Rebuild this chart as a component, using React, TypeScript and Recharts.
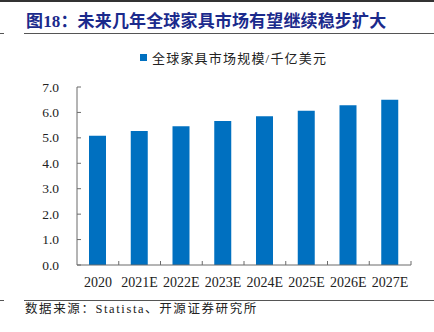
import { BarChart, Bar, XAxis, YAxis } from 'recharts';

const years = ['2020', '2021E', '2022E', '2023E', '2024E', '2025E', '2026E', '2027E'];
const marketSize = [5.08, 5.27, 5.46, 5.66, 5.85, 6.07, 6.28, 6.5];
const yTicks = [0, 1, 2, 3, 4, 5, 6, 7];

const seriesName = '全球家具市场规模/千亿美元';
const title = '图18：未来几年全球家具市场有望继续稳步扩大';
const source = '数据来源：Statista、开源证券研究所';

const data = years.map((year, i) => ({ year, value: marketSize[i] }));

const BLUE = '#0070C0';
const AXIS = '#6b6b6b';
const LATIN = '"Liberation Serif", "Times New Roman", serif';
const CJK = '"Liberation Serif", "Noto Sans CJK SC", serif';

const Y_MARGIN = 18;
const X_MARGIN = 10;
const TICK_LEN = 4;

function YTick(props: any) {
  const { x, y, payload } = props;
  const axisX = x + Y_MARGIN;
  return (
    <g>
      <line x1={axisX} x2={axisX + TICK_LEN} y1={y} y2={y} stroke={AXIS} />
      <text x={x} y={y} dy={4.5} textAnchor="end" fill="#222" fontSize={13.5} fontFamily={LATIN}>
        {Number(payload.value).toFixed(1)}
      </text>
    </g>
  );
}

function XTick(props: any) {
  const { x, y, payload, index, width, visibleTicksCount } = props;
  const band = width / visibleTicksCount;
  const axisY = y - X_MARGIN;
  const left = x - band / 2;
  const right = x + band / 2;
  return (
    <g>
      {index > 0 && <line x1={left} x2={left} y1={axisY} y2={axisY - TICK_LEN} stroke={AXIS} />}
      {index === visibleTicksCount - 1 && (
        <line x1={right} x2={right} y1={axisY} y2={axisY - TICK_LEN} stroke={AXIS} />
      )}
      <text x={x} y={y} dy={12} textAnchor="middle" fill="#222" fontSize={14} fontFamily={LATIN}>
        {payload.value}
      </text>
    </g>
  );
}

export default function App() {
  return (
    <div
      style={{
        position: 'absolute',
        left: 0,
        top: 0,
        width: 434,
        height: 332,
        background: '#fff',
        overflow: 'hidden',
      }}
    >
      <div style={{ position: 'absolute', left: 0, top: 0, width: 434, height: 2, background: '#333' }} />
      <div
        style={{
          position: 'absolute',
          left: 26,
          top: 10,
          fontSize: 17,
          fontWeight: 'bold',
          color: '#1b2a8c',
          fontFamily: CJK,
          whiteSpace: 'nowrap',
          lineHeight: '24px',
          letterSpacing: 0.15,
        }}
      >
        {title}
      </div>
      <div style={{ position: 'absolute', left: 0, top: 33, width: 4, height: 1, background: '#555' }} />
      <div style={{ position: 'absolute', left: 24, top: 33, width: 410, height: 1, background: '#555' }} />

      <div
        style={{
          position: 'absolute',
          left: 140,
          top: 48,
          display: 'flex',
          alignItems: 'center',
          fontSize: 13,
          color: '#222',
          fontFamily: CJK,
          whiteSpace: 'nowrap',
          letterSpacing: 1.2,
        }}
      >
        <span style={{ display: 'inline-block', width: 7, height: 7, background: BLUE, marginRight: 5 }} />
        {seriesName}
      </div>

      <div style={{ position: 'absolute', left: 0, top: 0 }}>
        <BarChart
          width={434}
          height={332}
          data={data}
          margin={{ top: 87, right: 23, bottom: 37, left: 0 }}
          barCategoryGap={0}
        >
          <XAxis
            dataKey="year"
            stroke={AXIS}
            tickLine={false}
            tickSize={0}
            tickMargin={X_MARGIN}
            tick={<XTick />}
            interval={0}
            height={30}
          />
          <YAxis
            domain={[0, 7]}
            ticks={yTicks}
            stroke={AXIS}
            tickLine={false}
            tickSize={0}
            tickMargin={Y_MARGIN}
            tick={<YTick />}
            width={77}
          />
          <Bar dataKey="value" name={seriesName} fill={BLUE} barSize={17} isAnimationActive={false} />
        </BarChart>
      </div>

      <div style={{ position: 'absolute', left: 0, top: 300, width: 4, height: 1, background: '#555' }} />
      <div style={{ position: 'absolute', left: 24, top: 300, width: 410, height: 1, background: '#555' }} />
      <div
        style={{
          position: 'absolute',
          left: 25,
          top: 301,
          fontSize: 12.5,
          color: '#222',
          fontFamily: CJK,
          whiteSpace: 'nowrap',
          lineHeight: '16px',
          letterSpacing: 1.6,
        }}
      >
        {source}
      </div>
    </div>
  );
}
